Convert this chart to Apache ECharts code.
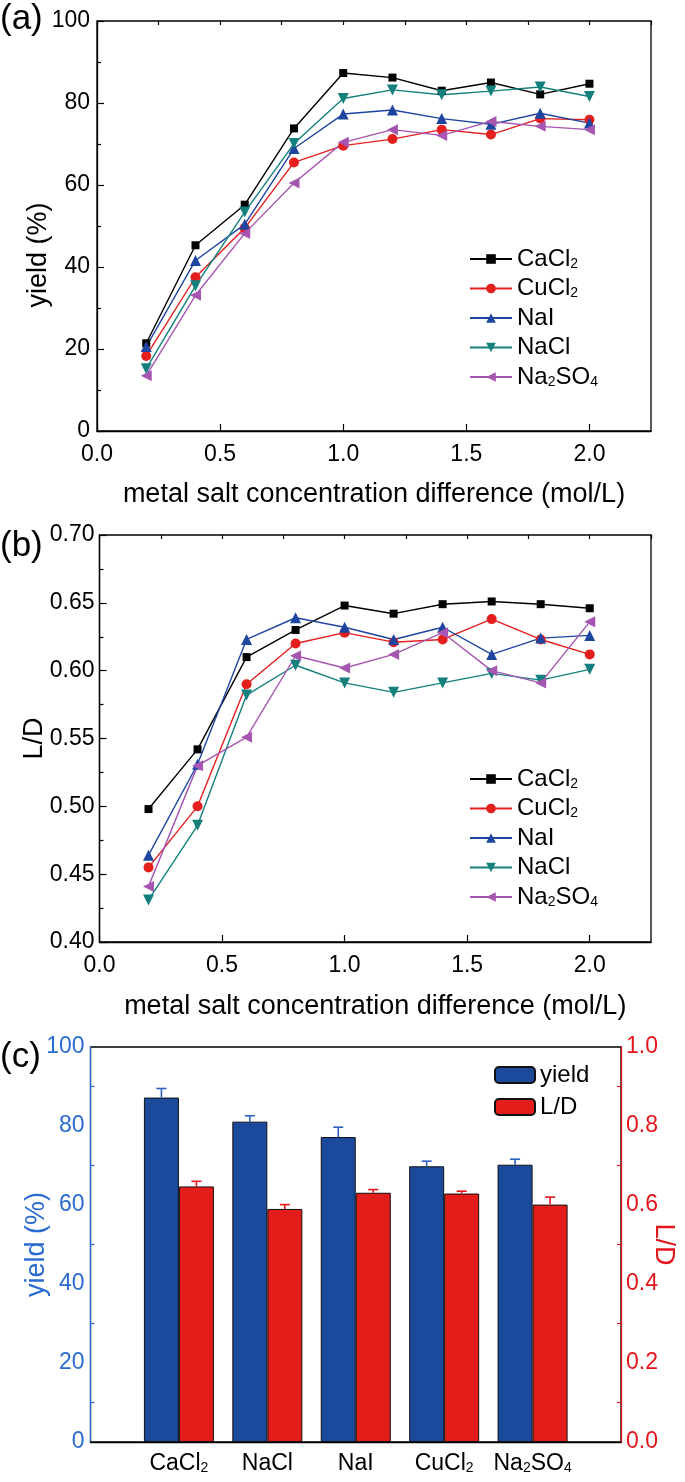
<!DOCTYPE html>
<html>
<head>
<meta charset="utf-8">
<script src="https://cdn.jsdelivr.net/npm/echarts@6/dist/echarts.min.js"></script>
<style>html,body{margin:0;padding:0;background:#fff;}#c{width:685px;height:1482px;}</style>
</head>
<body>
<div id="c"></div>
<script>
// ---- data ----
const xConc = [0.2, 0.4, 0.6, 0.8, 1.0, 1.2, 1.4, 1.6, 1.8, 2.0];
const seriesNames = ['CaCl2', 'CuCl2', 'NaI', 'NaCl', 'Na2SO4'];
const yieldCaCl2  = [21.4, 45.3, 55.2, 73.8, 87.3, 86.2, 83.0, 85.0, 82.1, 84.7];
const yieldCuCl2  = [18.3, 37.5, 49.5, 65.5, 69.6, 71.2, 73.5, 72.3, 76.2, 75.9];
const yieldNaI    = [20.6, 41.6, 50.4, 68.9, 77.3, 78.3, 76.2, 74.8, 77.5, 75.1];
const yieldNaCl   = [15.2, 35.4, 53.4, 70.1, 81.1, 83.2, 82.0, 82.9, 83.9, 81.6];
const yieldNa2SO4 = [13.5, 33.1, 48.2, 60.5, 70.4, 73.5, 72.1, 75.5, 74.3, 73.5];
const ldCaCl2  = [0.498, 0.542, 0.610, 0.630, 0.648, 0.642, 0.649, 0.651, 0.649, 0.646];
const ldCuCl2  = [0.455, 0.500, 0.590, 0.620, 0.628, 0.621, 0.623, 0.638, 0.623, 0.612];
const ldNaI    = [0.464, 0.531, 0.623, 0.639, 0.632, 0.623, 0.632, 0.612, 0.624, 0.626];
const ldNaCl   = [0.431, 0.486, 0.582, 0.604, 0.591, 0.584, 0.591, 0.598, 0.593, 0.601];
const ldNa2SO4 = [0.441, 0.530, 0.551, 0.611, 0.602, 0.612, 0.628, 0.600, 0.591, 0.636];
const salts     = ['CaCl2', 'NaCl', 'NaI', 'CuCl2', 'Na2SO4'];
const barYield  = [87.2, 81.1, 77.2, 69.8, 70.2];
const yieldErr  = [2.3, 1.5, 2.5, 1.3, 1.4];
const barLD     = [0.647, 0.590, 0.631, 0.629, 0.601];
const ldErr     = [0.013, 0.011, 0.008, 0.006, 0.019];

// ---- styling ----
const FONT = '"Liberation Sans", Arial, Helvetica, sans-serif';
const FS = 23;      // tick labels
const FS_NAME = 27; // axis titles
const FS_LEG = 24;  // legend text
const BLUE_AX = '#2a6bd1', RED_AX = '#e4151b';
const BAR_BLUE = '#1b4a9d', BAR_RED = '#e31e1a';
const lineStyles = {
  CaCl2:  {color: '#000000', symbol: 'rect', size: 8, rot: 0},
  CuCl2:  {color: '#e41f1d', symbol: 'circle', size: 10, rot: 0},
  NaI:    {color: '#1e46a0', symbol: 'triangle', size: 11, rot: 0},
  NaCl:   {color: '#13807e', symbol: 'triangle', size: 11, rot: 180},
  Na2SO4: {color: '#a655b1', symbol: 'triangle', size: 11, rot: 90}
};
const sub = s => s.replace(/(\d)/g, '{s|$1}');
const rich = {s: {fontSize: 14, lineHeight: 8, verticalAlign: 'bottom', fontFamily: FONT}};
const zip = (xs, ys) => xs.map((x, i) => [x, ys[i]]);

const yieldData = {CaCl2: yieldCaCl2, CuCl2: yieldCuCl2, NaI: yieldNaI, NaCl: yieldNaCl, Na2SO4: yieldNa2SO4};
const ldData = {CaCl2: ldCaCl2, CuCl2: ldCuCl2, NaI: ldNaI, NaCl: ldNaCl, Na2SO4: ldNa2SO4};

function lineSeries(name, data, xi, yi) {
  const st = lineStyles[name];
  return {
    type: 'line', name, xAxisIndex: xi, yAxisIndex: yi, data: zip(xConc, data),
    symbol: st.symbol, symbolSize: st.size, symbolRotate: st.rot,
    lineStyle: {color: st.color, width: 1.4}, itemStyle: {color: st.color},
    emphasis: {disabled: true}
  };
}

const txt = {color: '#000', fontSize: FS, fontFamily: FONT};
const nameTxt = {color: '#000', fontSize: FS_NAME, fontFamily: FONT};
function valueX(grid, gap) {
  return [{
    type: 'value', gridIndex: grid, min: 0, max: 2.25, interval: 0.5,
    axisLine: {lineStyle: {color: '#000', width: 1.3}},
    axisTick: {inside: true, length: 7, lineStyle: {color: '#000', width: 1.2}},
    axisLabel: Object.assign({margin: 12, showMaxLabel: false, formatter: v => v.toFixed(1)}, txt),
    splitLine: {show: false},
    name: 'metal salt concentration difference (mol/L)', nameLocation: 'middle', nameGap: gap,
    nameMoveOverlap: false, nameTextStyle: nameTxt
  }, {
    type: 'value', gridIndex: grid, min: 0, max: 2.25, interval: 0.25,
    axisLine: {show: false},
    axisTick: {inside: true, length: 4, lineStyle: {color: '#000', width: 1.2}},
    axisLabel: {show: false}, splitLine: {show: false}
  }];
}

function errRender(offset, color) {
  return function (params, api) {
    const x = api.value(0), v = api.value(1), e = api.value(2);
    const p0 = api.coord([x, v]);
    const p1 = api.coord([x, v + e]);
    const cx = p0[0] + offset;
    return {type: 'group', children: [
      {type: 'line', shape: {x1: cx, y1: p0[1], x2: cx, y2: p1[1]}, style: {stroke: color, lineWidth: 1.6}},
      {type: 'line', shape: {x1: cx - 5, y1: p1[1], x2: cx + 5, y2: p1[1]}, style: {stroke: color, lineWidth: 1.6}}
    ]};
  };
}

const catData = [''].concat(salts, ['']);
const pad = arr => ['-'].concat(arr, ['-']);

const legTxt = Object.assign({rich}, txt, {fontSize: FS_LEG});
const gridBase = {show: true, borderColor: '#000', borderWidth: 1.3, containLabel: false, outerBoundsMode: 'none'};

const chart = echarts.init(document.getElementById('c'), null, {renderer: 'canvas'});
const option = {
  animation: false,
  textStyle: {fontFamily: FONT},
  grid: [
    Object.assign({left: 97, top: 21, width: 554, height: 410}, gridBase),
    Object.assign({left: 99.5, top: 535, width: 551.5, height: 407}, gridBase),
    Object.assign({left: 90.5, top: 1047, width: 530.5, height: 395}, gridBase)
  ],
  xAxis: [].concat(valueX(0, 50), valueX(1, 51), [{
    type: 'category', gridIndex: 2, data: catData, boundaryGap: false,
    axisLine: {lineStyle: {color: '#000', width: 1.3}},
    axisTick: {show: false},
    axisLabel: Object.assign({margin: 10, interval: 0, formatter: v => sub(v), rich}, txt),
    splitLine: {show: false}
  }]),
  yAxis: [
    {
      type: 'value', gridIndex: 0, min: 0, max: 100, interval: 20,
      axisLine: {show: true, lineStyle: {color: '#000', width: 1.3}},
      axisTick: {inside: true, length: 7, lineStyle: {color: '#000', width: 1.2}},
      minorTick: {show: true, splitNumber: 2, length: 4, lineStyle: {color: '#000', width: 1.2}},
      axisLabel: Object.assign({margin: 7}, txt),
      splitLine: {show: false},
      name: 'yield (%)', nameLocation: 'middle', nameGap: 44.5, nameMoveOverlap: false,
      nameTextStyle: Object.assign({padding: [0, 58, 0, 0]}, nameTxt)
    },
    {
      type: 'value', gridIndex: 1, min: 0.40, max: 0.70, interval: 0.05,
      axisLine: {show: true, lineStyle: {color: '#000', width: 1.3}},
      axisTick: {inside: true, length: 7, lineStyle: {color: '#000', width: 1.2}},
      minorTick: {show: true, splitNumber: 2, length: 4, lineStyle: {color: '#000', width: 1.2}},
      axisLabel: Object.assign({margin: 5, formatter: v => v.toFixed(2)}, txt),
      splitLine: {show: false},
      name: 'L/D', nameLocation: 'middle', nameGap: 51, nameMoveOverlap: false, nameTextStyle: nameTxt
    },
    {
      type: 'value', gridIndex: 2, min: 0, max: 100, interval: 20, position: 'left',
      axisLine: {show: true, lineStyle: {color: BLUE_AX, width: 1.3}},
      axisTick: {inside: true, length: 7, lineStyle: {color: BLUE_AX, width: 1.2}},
      minorTick: {show: true, splitNumber: 2, length: 4, lineStyle: {color: BLUE_AX, width: 1.2}},
      axisLabel: Object.assign({}, txt, {margin: 6, color: BLUE_AX}),
      splitLine: {show: false},
      name: 'yield (%)', nameLocation: 'middle', nameGap: 40, nameMoveOverlap: false,
      nameTextStyle: Object.assign({}, nameTxt, {color: BLUE_AX})
    },
    {
      type: 'value', gridIndex: 2, min: 0, max: 1, interval: 0.2, position: 'right',
      axisLine: {show: true, lineStyle: {color: RED_AX, width: 1.3}},
      axisTick: {inside: true, length: 7, lineStyle: {color: RED_AX, width: 1.2}},
      minorTick: {show: true, splitNumber: 2, length: 4, lineStyle: {color: RED_AX, width: 1.2}},
      axisLabel: Object.assign({}, txt, {margin: 5, color: RED_AX, formatter: v => v.toFixed(1)}),
      splitLine: {show: false},
      name: 'L/D', nameLocation: 'middle', nameGap: 29, nameRotate: -90, nameMoveOverlap: false,
      nameTextStyle: Object.assign({}, nameTxt, {color: RED_AX})
    }
  ],
  legend: [
    {
      data: seriesNames, orient: 'vertical', left: 469, top: 247, padding: 0,
      itemWidth: 42, itemHeight: 12, itemGap: 5.5, selectedMode: false,
      formatter: n => sub(n), textStyle: legTxt
    },
    {
      data: seriesNames, orient: 'vertical', left: 469, top: 767, padding: 0,
      itemWidth: 42, itemHeight: 12, itemGap: 5.5, selectedMode: false,
      formatter: n => sub(n), textStyle: legTxt
    },
    {
      data: ['yield', 'L/D'], orient: 'vertical', left: 494, top: 1063, padding: 0,
      itemWidth: 40, itemHeight: 16, itemGap: 8, selectedMode: false,
      textStyle: Object.assign({lineHeight: 24}, txt, {fontSize: FS_LEG})
    }
  ],
  graphic: [
    {type: 'text', left: 0, top: 2, style: {text: '(a)', fontSize: 35, fontFamily: FONT, fill: '#000'}},
    {type: 'text', left: 0, top: 529, style: {text: '(b)', fontSize: 35, fontFamily: FONT, fill: '#000'}},
    {type: 'text', left: 0, top: 1040, style: {text: '(c)', fontSize: 35, fontFamily: FONT, fill: '#000'}}
  ],
  series: [].concat(
    seriesNames.map(n => lineSeries(n, yieldData[n], 0, 0)),
    seriesNames.map(n => lineSeries(n, ldData[n], 2, 1)),
    [
      {type: 'bar', name: 'yield', xAxisIndex: 4, yAxisIndex: 2, data: pad(barYield),
       barWidth: 35, barGap: '0%', itemStyle: {color: BAR_BLUE, borderColor: '#111', borderWidth: 1}, z: 2},
      {type: 'bar', name: 'L/D', xAxisIndex: 4, yAxisIndex: 3, data: pad(barLD),
       barWidth: 35, barGap: '0%', itemStyle: {color: BAR_RED, borderColor: '#111', borderWidth: 1}, z: 2},
      {type: 'custom', name: 'yield error', xAxisIndex: 4, yAxisIndex: 2, z: 5,
       data: salts.map((s, i) => [i + 1, barYield[i], yieldErr[i]]), renderItem: errRender(-17.5, '#2d5fbf')},
      {type: 'custom', name: 'L/D error', xAxisIndex: 4, yAxisIndex: 3, z: 5,
       data: salts.map((s, i) => [i + 1, barLD[i], ldErr[i]]), renderItem: errRender(17.5, '#e4151b')}
    ]
  )
};
chart.setOption(option);
</script>
</body>
</html>
